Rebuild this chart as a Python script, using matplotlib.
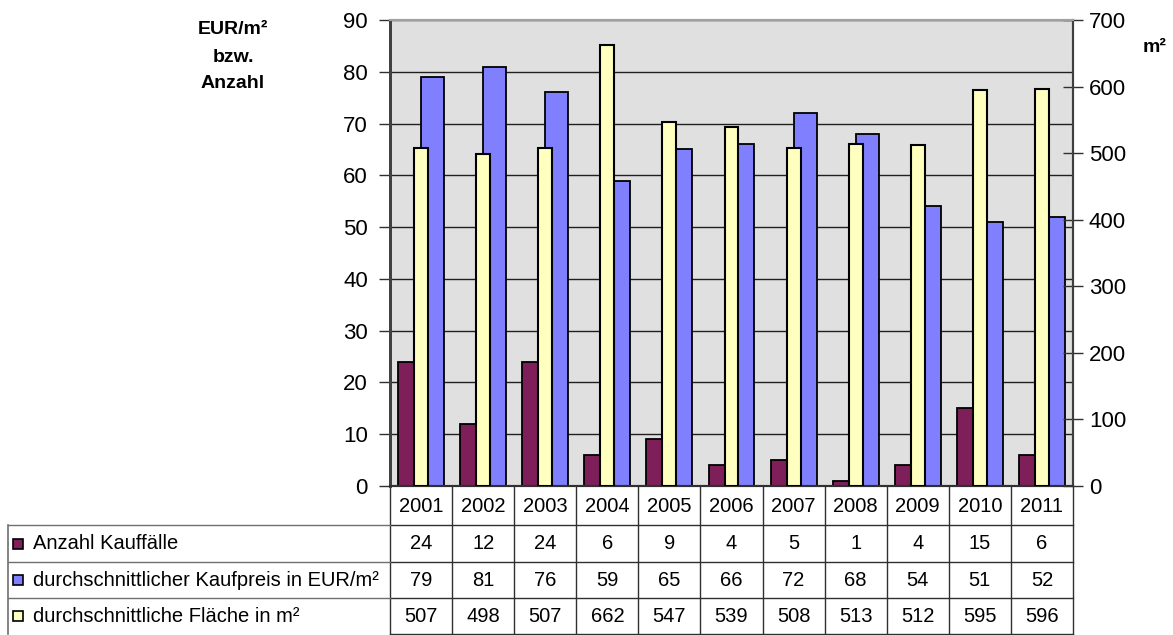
import numpy as np
import matplotlib.pyplot as plt
from matplotlib.transforms import blended_transform_factory
from matplotlib.patches import Rectangle

plt.rcParams['font.family'] = ['Liberation Sans', 'DejaVu Sans']

jahre = ['2001', '2002', '2003', '2004', '2005', '2006', '2007', '2008', '2009', '2010', '2011']
anzahl = [24, 12, 24, 6, 9, 4, 5, 1, 4, 15, 6]
kaufpreis = [79, 81, 76, 59, 65, 66, 72, 68, 54, 51, 52]
flaeche = [507, 498, 507, 662, 547, 539, 508, 513, 512, 595, 596]

serien = ['Anzahl Kauffälle', 'durchschnittlicher Kaufpreis in EUR/m²', 'durchschnittliche Fläche in m²']
farben = ['#7f1f5a', '#8080ff', '#ffffc0']
werte = [anzahl, kaufpreis, flaeche]

W, H = 1173, 635
fig = plt.figure(figsize=(W / 100, H / 100), dpi=100)

# Plotbereich in Pixeln
px0, px1, py0, py1 = 390, 1073, 486, 20
ax = fig.add_axes([px0 / W, 1 - py0 / H, (px1 - px0) / W, (py0 - py1) / H])
ax.set_facecolor('#e0e0e0')

x = np.arange(len(jahre))
bw = 0.37
ax.bar(x - bw / 2, anzahl, bw, color=farben[0], edgecolor='black', linewidth=1.3, zorder=2)
ax.bar(x + bw / 2, kaufpreis, bw, color=farben[1], edgecolor='black', linewidth=1.3, zorder=2)
ax.set_xlim(-0.5, len(jahre) - 0.5)
ax.set_ylim(0, 90)
ax.set_yticks(range(0, 91, 10))
ax.yaxis.grid(True, color='#202020', linewidth=1)
ax.set_axisbelow(True)
ax.set_xticks([])
ax.tick_params(axis='y', labelsize=16, length=8, width=1, pad=8, color='#303030')

ax2 = ax.twinx()
ax2.bar(x, flaeche, 0.225, color=farben[2], edgecolor='black', linewidth=1.5, zorder=3)
ax2.set_ylim(0, 700)
ax2.set_yticks(range(0, 701, 100))
ax2.tick_params(axis='y', labelsize=16, length=15, width=1, pad=4, direction='inout', color='#303030')

for a in (ax, ax2):
    a.spines['left'].set_color('#404040')
    a.spines['left'].set_linewidth(2)
    a.spines['right'].set_color('#404040')
    a.spines['right'].set_linewidth(1.5)
    a.spines['top'].set_color('#a0a0a0')
    a.spines['top'].set_linewidth(1.5)
    a.spines['bottom'].set_color('#303030')
    a.spines['bottom'].set_linewidth(1.5)

# Overlay in Pixelkoordinaten fuer Tabelle und Achsentitel
ov = fig.add_axes([0, 0, 1, 1], zorder=-1)
ov.set_xlim(0, W)
ov.set_ylim(H, 0)
ov.axis('off')
ov.patch.set_alpha(0)

tr = blended_transform_factory(ax.transData, ov.transData)

# Tabellenlinien
zeilen_y = [486, 525, 562, 598, 634]
for k in range(len(jahre) + 1):
    ov.plot([k - 0.5, k - 0.5], [486, 634], color='#303030', lw=1, transform=tr, clip_on=False)
for yy in zeilen_y[1:]:
    ov.plot([px0, px1], [yy, yy], color='#303030', lw=1, clip_on=False)
for yy in zeilen_y[1:4]:
    ov.plot([8, px0], [yy, yy], color='#707070', lw=1, clip_on=False)
ov.plot([8, 8], [525, 634], color='#707070', lw=1.2, clip_on=False)

# Jahreszahlen
for i, j in enumerate(jahre):
    ov.text(i, 506, j, ha='center', va='center', fontsize=14.5, transform=tr)

# Zeilen mit Legende und Werten
for r, (name, farbe, vals) in enumerate(zip(serien, farben, werte)):
    ym = (zeilen_y[r + 1] + zeilen_y[r + 2]) / 2
    ov.add_patch(Rectangle((13, ym - 5), 10, 10, facecolor=farbe, edgecolor='black', lw=1.2))
    ov.text(33, ym, name, ha='left', va='center', fontsize=14.5)
    for i, v in enumerate(vals):
        ov.text(i, ym, str(v), ha='center', va='center', fontsize=14.5, transform=tr)

# Achsentitel
ov.text(233, 30, 'EUR/m²', ha='center', va='center', fontsize=14, fontweight='bold')
ov.text(233, 57, 'bzw.', ha='center', va='center', fontsize=14, fontweight='bold')
ov.text(233, 84, 'Anzahl', ha='center', va='center', fontsize=14, fontweight='bold')
ov.text(1155, 48, 'm²', ha='center', va='center', fontsize=14, fontweight='bold')

fig.savefig('out.png', dpi=100)
